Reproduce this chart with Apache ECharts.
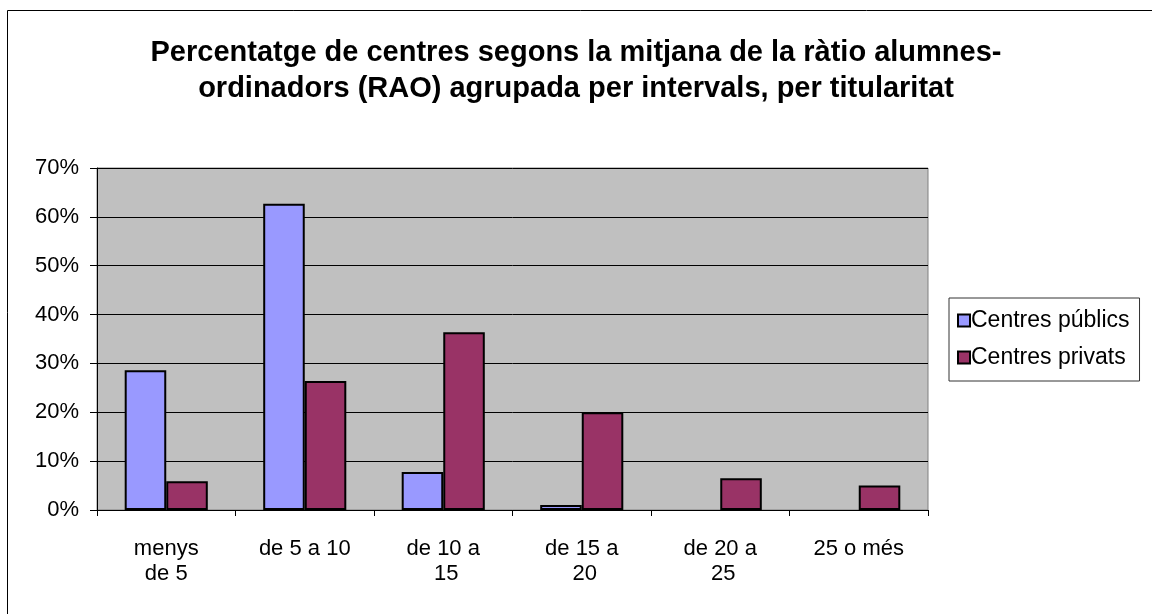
<!DOCTYPE html>
<html>
<head>
<meta charset="utf-8">
<script src="https://cdn.jsdelivr.net/npm/echarts@6/dist/echarts.min.js"></script>
<style>
    html, body { margin: 0; padding: 0; background: #fff; }
    #chart { width: 1152px; height: 614px; }
</style>
</head>
<body>
<div id="chart"></div>
<script>
// dades llegides del gràfic
var categories = ["menys de 5", "de 5 a 10", "de 10 a 15", "de 15 a 20", "de 20 a 25", "25 o més"];
var axisLabels = ["menys\nde 5", "de 5 a 10", "de 10 a\n 15", "de 15 a\n 20", "de 20 a\n 25", "25 o més"];
var publics = [28.6, 62.7, 7.8, 1.0, 0, 0];
var privats = [5.9, 26.4, 36.4, 20.0, 6.5, 5.0];
var yTicks = [0, 10, 20, 30, 40, 50, 60, 70];

var font = "Liberation Sans, Arial, sans-serif";

// les barres a zero no es dibuixen
function noZero(arr) {
    return arr.map(function (v) {
        return v === 0 ? "-" : v;
    });
}

var myChart = echarts.init(document.getElementById("chart"));
var option = {
    animation: false,
    backgroundColor: "#fff",
    textStyle: { fontFamily: font, color: "#000" },
    title: {
        text: "Percentatge de centres segons la mitjana de la ràtio alumnes-\nordinadors (RAO) agrupada per intervals, per titularitat",
        left: "center",
        top: 30,
        textStyle: {
            fontFamily: font,
            fontSize: 29,
            fontWeight: "bold",
            color: "#000",
            lineHeight: 36,
        },
    },
    graphic: [
        {
            type: "rect",
            shape: { x: 7.5, y: 10.5, width: 1200, height: 700 },
            style: { fill: "none", stroke: "#000", lineWidth: 1 },
            silent: true,
        },
    ],
    legend: {
        orient: "vertical",
        left: 949,
        top: 298,
        padding: [11, 10, 12, 8],
        borderColor: "#333",
        borderWidth: 1,
        itemWidth: 12,
        itemHeight: 12,
        itemGap: 14,
        icon: "rect",
        textStyle: { fontFamily: font, fontSize: 23, color: "#000", padding: [0, 0, 0, -4] },
        data: ["Centres públics", "Centres privats"],
    },
    grid: {
        left: 97,
        right: 224,
        top: 168,
        bottom: 104,
        show: true,
        backgroundColor: "#c0c0c0",
        borderColor: "#808080",
        borderWidth: 1,
    },
    xAxis: {
        type: "category",
        data: categories,
        boundaryGap: true,
        axisLine: { show: true, lineStyle: { color: "#000", width: 1 } },
        axisTick: { show: true, length: 6, lineStyle: { color: "#000" } },
        axisLabel: {
            interval: 0,
            margin: 26,
            fontFamily: font,
            fontSize: 22,
            color: "#000",
            lineHeight: 25,
            formatter: function (value, idx) {
                return axisLabels[idx];
            },
        },
    },
    yAxis: {
        type: "value",
        min: yTicks[0],
        max: yTicks[yTicks.length - 1],
        interval: 10,
        axisLine: { show: true, lineStyle: { color: "#000", width: 1 } },
        axisTick: { show: true, inside: false, length: 7, lineStyle: { color: "#000" } },
        splitLine: { show: true, lineStyle: { color: "#000", width: 1 } },
        axisLabel: {
            margin: 18,
            fontFamily: font,
            fontSize: 22,
            color: "#000",
            formatter: "{value}%",
        },
    },
    series: [
        {
            name: "Centres públics",
            type: "bar",
            data: noZero(publics),
            barGap: "0%",
            barCategoryGap: "40%",
            itemStyle: { color: "#9999ff", borderColor: "#000", borderWidth: 2 },
        },
        {
            name: "Centres privats",
            type: "bar",
            data: noZero(privats),
            barGap: "0%",
            barCategoryGap: "40%",
            itemStyle: { color: "#993366", borderColor: "#000", borderWidth: 2 },
        },
    ],
};
myChart.setOption(option);
</script>
</body>
</html>
